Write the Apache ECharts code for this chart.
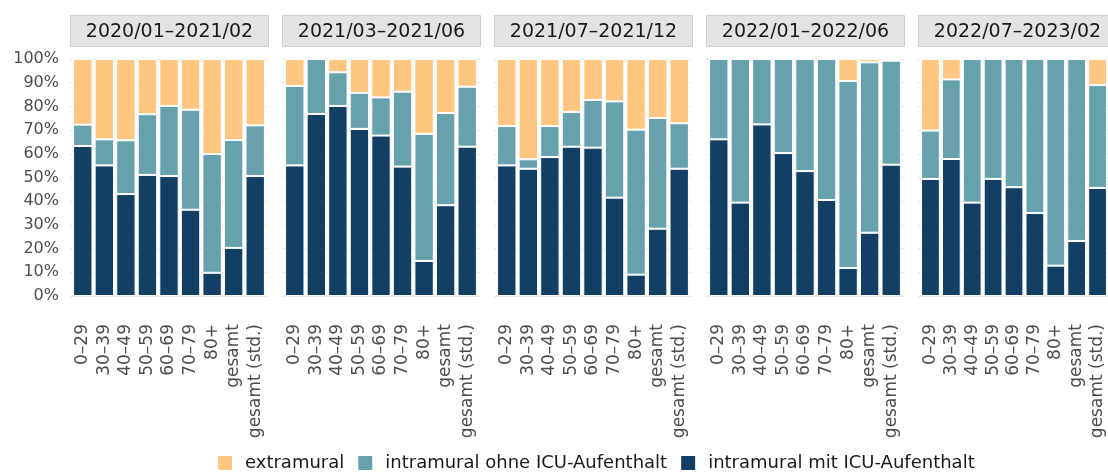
<!DOCTYPE html>
<html>
<head>
<meta charset="utf-8">
<script src="https://cdn.jsdelivr.net/npm/echarts@6/dist/echarts.min.js"></script>
<style>
  html, body { margin: 0; padding: 0; background: #fff; }
  #chart { width: 1108px; height: 472px; }
</style>
</head>
<body>
<div id="chart"></div>
<script>
// Zeiträume (Facetten) und Altersgruppen
const periods = ['2020/01–2021/02', '2021/03–2021/06', '2021/07–2021/12', '2022/01–2022/06', '2022/07–2023/02']
const categories = ['0–29', '30–39', '40–49', '50–59', '60–69', '70–79', '80+', 'gesamt', 'gesamt (std.)']
const yTicks = [0, 10, 20, 30, 40, 50, 60, 70, 80, 90, 100]

// Anteile in %, je Zeitraum eine Zeile
const mitICU = [
  [63.3, 55.1, 43.0, 51.1, 50.6, 36.4, 9.8, 20.3, 50.6],
  [55.1, 76.8, 80.2, 70.5, 67.7, 54.6, 14.8, 38.3, 63.0],
  [55.1, 53.7, 58.6, 63.0, 62.6, 41.5, 9.0, 28.4, 53.7],
  [66.1, 39.4, 72.4, 60.3, 52.7, 40.5, 11.8, 26.7, 55.4],
  [49.4, 57.8, 39.4, 49.4, 45.9, 35.0, 12.8, 23.2, 45.6]
]
const ohneICU = [
  [9.0, 11.0, 22.7, 25.6, 29.6, 42.2, 50.1, 45.5, 21.4],
  [33.5, 23.2, 14.2, 15.2, 16.1, 31.6, 53.6, 38.9, 25.3],
  [16.6, 4.0, 13.1, 14.6, 20.1, 40.6, 61.2, 46.7, 19.2],
  [33.9, 60.6, 27.6, 39.7, 47.3, 59.5, 78.9, 71.9, 43.9],
  [20.4, 33.6, 60.6, 50.6, 54.1, 65.0, 87.2, 76.8, 43.4]
]
const extramural = [
  [27.7, 33.9, 34.3, 23.3, 19.8, 21.4, 40.1, 34.2, 28.0],
  [11.4, 0, 5.6, 14.3, 16.2, 13.8, 31.6, 22.8, 11.7],
  [28.3, 42.3, 28.3, 22.4, 17.3, 17.9, 29.8, 24.9, 27.1],
  [0, 0, 0, 0, 0, 0, 9.3, 1.4, 0.7],
  [30.2, 8.6, 0, 0, 0, 0, 0, 0, 11.0]
]

const colors = {
  extramural: '#fec681',
  ohne: '#67a1ae',
  mit: '#133f64'
}
const FONT = 'DejaVu Sans'

// Layout der Facetten
const panelLeft = 70
const panelWidth = 198
const panelGap = 14
const panelTop = 59
const panelBottom = 296
const stripTop = 15
const stripHeight = 31

let chart = echarts.init(document.getElementById('chart'))

let grids = []
let xAxes = []
let yAxes = []
let series = []
let graphics = []

periods.forEach((p, i) => {
  let left = panelLeft + i * (panelWidth + panelGap)
  grids.push({
    left: left + 2,
    width: panelWidth - 4,
    top: panelTop,
    height: panelBottom - panelTop
  })
  xAxes.push({
    type: 'category',
    gridIndex: i,
    data: categories,
    axisLine: { show: false },
    axisTick: { show: false },
    axisLabel: {
      rotate: 90,
      margin: 28,
      fontFamily: FONT,
      fontSize: 17,
      color: '#4d4d4d',
      interval: 0
    }
  })
  yAxes.push({
    type: 'value',
    gridIndex: i,
    min: yTicks[0],
    max: yTicks[yTicks.length - 1],
    interval: 10,
    axisLine: { show: false },
    axisTick: { show: true, length: 2, lineStyle: { color: '#e6e6e6' } },
    splitLine: { show: true, lineStyle: { color: '#ececec', width: 1 } },
    axisLabel: {
      show: i === 0,
      margin: 13,
      fontFamily: FONT,
      fontSize: 16,
      color: '#4d4d4d',
      formatter: v => v + '%'
    }
  })
  // rechte Seite nur Striche wie im Original
  yAxes.push({
    type: 'value',
    gridIndex: i,
    position: 'right',
    min: yTicks[0],
    max: yTicks[yTicks.length - 1],
    interval: 10,
    axisLine: { show: false },
    axisTick: { show: true, length: 2, lineStyle: { color: '#e6e6e6' } },
    splitLine: { show: false },
    axisLabel: { show: false }
  })

  let base = {
    type: 'bar',
    xAxisIndex: i,
    yAxisIndex: i * 2,
    stack: 'p' + i,
    barWidth: '90%',
    itemStyle: { borderColor: '#ffffff', borderWidth: 1 }
  }
  series.push(Object.assign({}, base, {
    name: 'intramural mit ICU-Aufenthalt',
    data: mitICU[i],
    itemStyle: Object.assign({}, base.itemStyle, { color: colors.mit })
  }))
  series.push(Object.assign({}, base, {
    name: 'intramural ohne ICU-Aufenthalt',
    data: ohneICU[i],
    itemStyle: Object.assign({}, base.itemStyle, { color: colors.ohne })
  }))
  series.push(Object.assign({}, base, {
    name: 'extramural',
    data: extramural[i],
    itemStyle: Object.assign({}, base.itemStyle, { color: colors.extramural })
  }))

  // Facettenstreifen oben
  graphics.push({
    type: 'group',
    left: left,
    top: stripTop,
    children: [
      {
        type: 'rect',
        shape: { x: 0, y: 0, width: panelWidth, height: stripHeight },
        style: { fill: '#e3e3e3', stroke: '#cfcfcf', lineWidth: 1 }
      },
      {
        type: 'text',
        x: panelWidth / 2,
        y: stripHeight / 2 + 1,
        style: {
          text: p,
          fontFamily: FONT,
          fontSize: 19,
          fill: '#1a1a1a',
          align: 'center',
          verticalAlign: 'middle'
        }
      }
    ]
  })
})

let option = {
  backgroundColor: '#ffffff',
  animation: false,
  grid: grids,
  xAxis: xAxes,
  yAxis: yAxes,
  series: series,
  graphic: graphics,
  legend: {
    left: 211,
    top: 449,
    itemWidth: 16,
    itemHeight: 16,
    itemGap: 12,
    icon: 'rect',
    data: ['extramural', 'intramural ohne ICU-Aufenthalt', 'intramural mit ICU-Aufenthalt'],
    textStyle: {
      fontFamily: FONT,
      fontSize: 18,
      color: '#1a1a1a',
      padding: [0, 0, 0, 7]
    }
  }
}

chart.setOption(option)
</script>
</body>
</html>
